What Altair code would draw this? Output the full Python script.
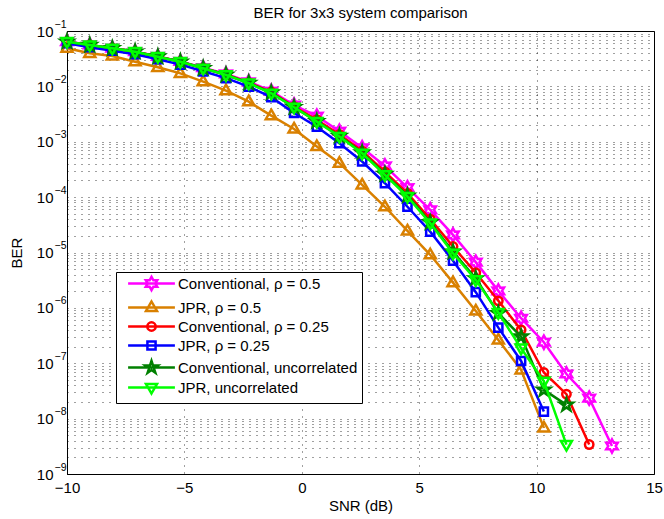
import math
import altair as alt
import pandas as pd

# ---------------- data ----------------
snr_db = [-10.0, -9.03, -8.07, -7.1, -6.13, -5.17, -4.2, -3.23, -2.26, -1.3,
          -0.33, 0.64, 1.6, 2.57, 3.54, 4.5, 5.47, 6.44, 7.41, 8.37,
          9.34, 10.31, 11.27, 12.24, 13.21]

series_names = ["Conventional, ρ = 0.5", "JPR, ρ = 0.5", "Conventional, ρ = 0.25",
                "JPR, ρ = 0.25", "Conventional, uncorrelated", "JPR, uncorrelated"]
series_colors = ["#ff00ff", "#d98000", "#ff0000", "#0000ff", "#008000", "#00ff00"]

ber_conv_rho05 = [0.0645, 0.056, 0.049, 0.0425, 0.0347, 0.0283, 0.0218, 0.0168, 0.0121, 0.0082,
                  4.6e-3, 2.9e-3, 1.55e-3, 7.8e-4, 3.66e-4, 1.48e-4, 5.9e-5, 2.08e-5, 6.7e-6, 2.03e-6,
                  6.5e-7, 2.4e-7, 6.4e-8, 2.34e-8, 3.2e-9]
ber_jpr_rho05 = [0.0488, 0.0396, 0.0354, 0.0279, 0.0221, 0.0172, 0.0122, 0.00836, 0.0053, 0.00296,
                 1.7e-3, 8.2e-4, 4.1e-4, 1.66e-4, 6.7e-5, 2.45e-5, 9.1e-6, 2.86e-6, 8.8e-7, 2.64e-7,
                 7.6e-8, 6.8e-9]
ber_conv_rho025 = [0.064, 0.0557, 0.0488, 0.0423, 0.0345, 0.028, 0.0214, 0.0164, 0.0117, 0.0079,
                   4.3e-3, 2.5e-3, 1.35e-3, 6.8e-4, 2.85e-4, 1.17e-4, 4.0e-5, 1.28e-5, 4.3e-6, 1.34e-6,
                   4.0e-7, 6.8e-8, 2.77e-8, 3.4e-9]
ber_jpr_rho025 = [0.060, 0.051, 0.044, 0.038, 0.031, 0.0247, 0.0187, 0.0141, 0.0099, 0.0064,
                  3.3e-3, 1.87e-3, 9.4e-4, 4.4e-4, 1.78e-4, 6.7e-5, 2.38e-5, 7.1e-6, 1.92e-6, 4.4e-7,
                  1.1e-7, 1.34e-8]
ber_conv_uncorr = [0.064, 0.0556, 0.0487, 0.0422, 0.0344, 0.0279, 0.0213, 0.0162, 0.0115, 0.0077,
                   4.2e-3, 2.35e-3, 1.27e-3, 6.4e-4, 2.6e-4, 1.06e-4, 3.5e-5, 1.03e-5, 3.4e-6, 8.0e-7,
                   3.03e-7, 3.3e-8, 1.77e-8]
ber_jpr_uncorr = [0.0641, 0.0558, 0.0488, 0.0423, 0.0344, 0.0279, 0.0212, 0.0161, 0.0114, 0.0075,
                  4.2e-3, 2.31e-3, 1.24e-3, 6.2e-4, 2.52e-4, 1.02e-4, 3.38e-5, 9.7e-6, 3.2e-6, 8.2e-7,
                  1.87e-7, 4.7e-8, 3.4e-9]

all_series = [ber_conv_rho05, ber_jpr_rho05, ber_conv_rho025,
              ber_jpr_rho025, ber_conv_uncorr, ber_jpr_uncorr]

x_ticks = [-10, -5, 0, 5, 10, 15]
y_decades = [1e-9, 1e-8, 1e-7, 1e-6, 1e-5, 1e-4, 1e-3, 1e-2, 1e-1]

rows = []
for name, vals in zip(series_names, all_series):
    for x, y in zip(snr_db, vals):
        rows.append({"series": name, "snr": x, "ber": y})
df = pd.DataFrame(rows)

# ---------------- marker shapes (unit box, centred at cx) ----------------
def fmt(x, y):
    return f"{x:.3f},{y:.3f}"

def star(n, r_in, r_out, cx=0.0):
    pts = []
    for i in range(2 * n):
        r = r_out if i % 2 == 0 else r_in
        a = math.radians(-90 + i * 180.0 / n)
        pts.append(fmt(cx + r * math.cos(a), r * math.sin(a)))
    return "M" + "L".join(pts) + "Z"

def tri_up(cx=0.0):
    return f"M{fmt(cx, -1.0)}L{fmt(cx + 0.92, 0.6)}L{fmt(cx - 0.92, 0.6)}Z"

def tri_down(cx=0.0):
    return f"M{fmt(cx, 1.0)}L{fmt(cx + 0.92, -0.6)}L{fmt(cx - 0.92, -0.6)}Z"

def circle(cx=0.0, r=0.7):
    return (f"M{fmt(cx - r, 0)}A{r},{r},0,1,0,{fmt(cx + r, 0)}"
            f"A{r},{r},0,1,0,{fmt(cx - r, 0)}Z")

def square(cx=0.0, h=0.68):
    return (f"M{fmt(cx - h, -h)}L{fmt(cx + h, -h)}L{fmt(cx + h, h)}L{fmt(cx - h, h)}Z")

def markers(cx=0.0):
    return [star(6, 0.62, 1.1, cx), tri_up(cx), circle(cx), square(cx),
            star(5, 0.42, 1.1, cx), tri_down(cx)]

marker_paths = markers(0.0)
LCX = 4.0     # legend marker centre (in symbol units)
LHALF = 3.9   # half length of legend line
legend_paths = [f"M{fmt(LCX - LHALF, 0)}L{fmt(LCX + LHALF, 0)}" + p for p in markers(LCX)]

FONT = "Liberation Sans"
MSIZE = 144
LW = 2.5

# ---------------- scales / axes ----------------
all_y_ticks = [float(f"{m}e{e}") for e in range(-9, -1) for m in range(1, 10)] + [0.1]

xscale = alt.Scale(domain=[-10, 15], nice=False, zero=False)
yscale = alt.Scale(type="log", domain=[1e-9, 1e-1], nice=False)

x_axis = alt.Axis(values=x_ticks, grid=True, gridDash=[1, 6], gridColor="#000000",
                  gridOpacity=0.75, ticks=False, labelFlush=False, labelFont=FONT,
                  labelFontSize=15, labelColor="#000", labelPadding=6,
                  titleFont=FONT, titleFontSize=15, titleFontWeight="normal",
                  titleColor="#000", titlePadding=3, domainColor="#000")

y_axis_main = alt.Axis(values=all_y_ticks,
                       labelExpr="abs(log(datum.value)/LN10 - round(log(datum.value)/LN10)) < 0.001 ? '10' : ''",
                       grid=True, gridDash=[1, 6], gridColor="#000000", gridOpacity=0.75,
                       ticks=False, labelOverlap=False, labelFlush=False,
                       labelFont=FONT, labelFontSize=15, labelColor="#000",
                       labelAlign="right", labelBaseline="middle", labelPadding=14,
                       titleFont=FONT, titleFontSize=15, titleFontWeight="normal",
                       titleColor="#000", titlePadding=12, domainColor="#000", orient="left")

y_axis_exp = alt.Axis(values=y_decades,
                      labelExpr="'\u2212' + format(-round(log(datum.value)/LN10), 'd')",
                      grid=False, ticks=False, domain=False, labelOverlap=False, labelFlush=False,
                      labelFont=FONT, labelFontSize=10.5, labelColor="#000",
                      labelAlign="left", labelBaseline="middle", labelPadding=13, labelOffset=-7,
                      title=None, orient="left")

X = alt.X("snr:Q", scale=xscale, axis=x_axis, title="SNR (dB)")

layers = []
for i, (name, color, path) in enumerate(zip(series_names, series_colors, marker_paths)):
    yax = y_axis_main if i == 0 else None
    base = alt.Chart(df).transform_filter(alt.datum.series == name)
    line = base.mark_line(color=color, strokeWidth=LW).encode(
        x=X, y=alt.Y("ber:Q", scale=yscale, axis=yax, title="BER"))
    pts = base.mark_point(shape=path, size=MSIZE, filled=False, strokeWidth=LW,
                          color=color, opacity=1).encode(
        x=X, y=alt.Y("ber:Q", scale=yscale, axis=None))
    layers += [line, pts]

legend_layer = alt.Chart(df).mark_point(filled=False, opacity=0, size=MSIZE, strokeWidth=LW).encode(
    x=X,
    y=alt.Y("ber:Q", scale=yscale, axis=y_axis_exp),
    color=alt.Color("series:N", scale=alt.Scale(domain=series_names, range=series_colors),
                    legend=alt.Legend(orient="none", legendX=49, legendY=241, title=None,
                                      labelFont=FONT, labelFontSize=15, labelColor="#000",
                                      labelLimit=400,
                                      symbolSize=MSIZE, symbolStrokeWidth=LW, labelOffset=43,
                                      rowPadding=0, strokeColor="#000", fillColor="#fff",
                                      padding=4, symbolOpacity=1)),
    shape=alt.Shape("series:N", scale=alt.Scale(domain=series_names, range=legend_paths)),
)
layers.append(legend_layer)

chart = alt.layer(*layers).resolve_axis(y="independent").properties(
    width=587, height=443,
    padding={"left": 67, "top": 31, "right": 10, "bottom": 45},
    autosize="none",
    background="white",
    title=alt.Title("BER for 3x3 system comparison", font=FONT, fontSize=15,
                    fontWeight="normal", color="#000", offset=8, dy=10, anchor="middle"),
).configure_view(stroke="#000", strokeWidth=1)

chart.save("out.html", embed_options={"renderer": "svg", "actions": False})
